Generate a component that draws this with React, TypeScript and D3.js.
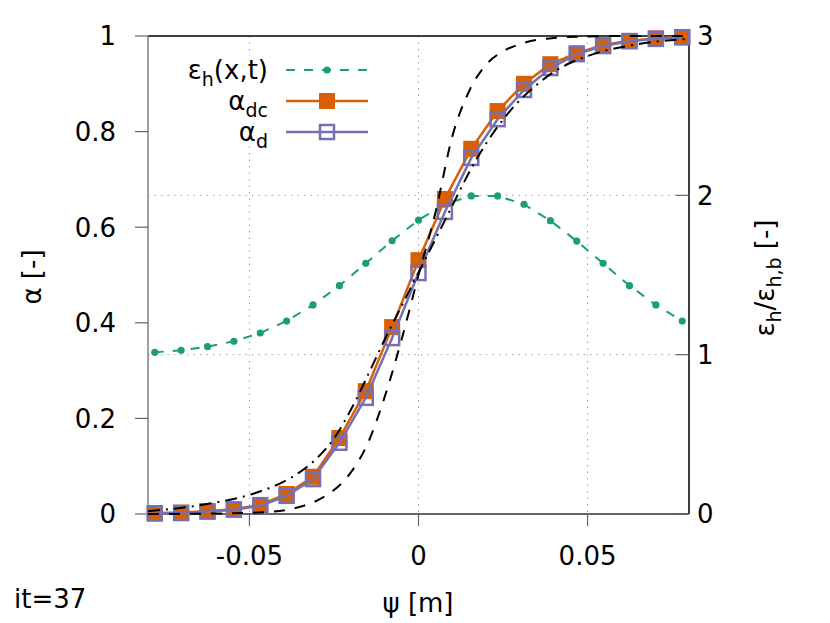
import * as d3 from "d3";
import React, { useRef, useEffect } from "react";

// cell centres along psi [m]
const psi = [
  -0.078, -0.0702, -0.0624, -0.0546, -0.0468, -0.039, -0.0312, -0.0234, -0.0156, -0.0078, 0,
  0.0078, 0.0156, 0.0234, 0.0312, 0.039, 0.0468, 0.0546, 0.0624, 0.0702, 0.078,
];
const alphaDc = [
  0.002, 0.003, 0.006, 0.01, 0.019, 0.042, 0.078, 0.159, 0.257, 0.391, 0.531,
  0.659, 0.764, 0.843, 0.9, 0.941, 0.964, 0.981, 0.99, 0.995, 0.998,
];
const alphaD = [
  0.001, 0.002, 0.005, 0.009, 0.017, 0.038, 0.073, 0.149, 0.243, 0.368, 0.504,
  0.632, 0.745, 0.826, 0.887, 0.933, 0.962, 0.979, 0.989, 0.994, 0.997,
];
const epsRatio = [
  1.015, 1.027, 1.05, 1.084, 1.136, 1.211, 1.312, 1.433, 1.573, 1.715, 1.845,
  1.944, 1.996, 1.996, 1.944, 1.841, 1.713, 1.573, 1.433, 1.312, 1.211,
];

// sharp reference profile (dashed)
const psiSharp = [
  -0.08, -0.06, -0.045, -0.035, -0.03, -0.025, -0.02, -0.015, -0.01, -0.005, 0,
  0.005, 0.01, 0.015, 0.02, 0.025, 0.03, 0.04, 0.05, 0.06, 0.08,
];
const alphaSharp = [
  0.0, 0.001, 0.004, 0.015, 0.028, 0.05, 0.087, 0.148, 0.245, 0.365, 0.5,
  0.63, 0.79, 0.885, 0.94, 0.968, 0.983, 0.996, 0.999, 1.0, 1.0,
];

// smeared reference profile (dash-dot)
const psiWide = [
  -0.08, -0.07, -0.0625, -0.055, -0.05, -0.045, -0.04, -0.035, -0.03, -0.025, -0.02, -0.015,
  -0.01, -0.005, 0, 0.005, 0.01, 0.015, 0.02, 0.025, 0.03, 0.035, 0.04, 0.045, 0.05, 0.055,
  0.0625, 0.07, 0.08,
];
const alphaWide = [
  0.006, 0.013, 0.021, 0.031, 0.04, 0.052, 0.067, 0.088, 0.117, 0.158, 0.218, 0.29,
  0.365, 0.435, 0.505, 0.575, 0.645, 0.715, 0.775, 0.825, 0.866, 0.898, 0.925, 0.944, 0.958,
  0.969, 0.98, 0.988, 0.994,
];

const xTicks = [-0.05, 0, 0.05];
const yTicks = [0, 0.2, 0.4, 0.6, 0.8, 1];
const y2Ticks = [0, 1, 2, 3];

const GREEN = "#1b9e77";
const ORANGE = "#d95f02";
const PURPLE = "#7570b3";
const FONT = "DejaVu Sans";

function App() {
  const svgRef = useRef(null);

  useEffect(() => {
    const svg = d3.select(svgRef.current);
    svg.selectAll("*").remove();

    const left = 148;
    const right = 689;
    const top = 36;
    const bottom = 514;

    const x = d3.scaleLinear().domain([-0.08, 0.08]).range([left, right]);
    const y = d3.scaleLinear().domain([0, 1]).range([bottom, top]);
    const y2 = d3.scaleLinear().domain([0, 3]).range([bottom, top]);

    svg.append("rect").attr("width", 830).attr("height", 623).attr("fill", "white");

    // grid (x tics and y2 tics)
    const grid = svg.append("g").attr("stroke", "#a0a0a0").attr("stroke-width", 1).attr("stroke-dasharray", "1.5,5");
    xTicks.forEach((t) => {
      grid.append("line").attr("x1", x(t)).attr("x2", x(t)).attr("y1", top).attr("y2", bottom);
    });
    [1, 2].forEach((t) => {
      grid.append("line").attr("x1", left).attr("x2", right).attr("y1", y2(t)).attr("y2", y2(t));
    });

    // border
    svg.append("path")
      .attr("d", `M${left},${top}H${right}V${bottom}`)
      .attr("fill", "none").attr("stroke", "black").attr("stroke-width", 1.5);
    svg.append("line").attr("x1", left).attr("x2", right).attr("y1", bottom).attr("y2", bottom)
      .attr("stroke", "#333").attr("stroke-width", 1.5);
    svg.append("line").attr("x1", left).attr("x2", left).attr("y1", top).attr("y2", bottom)
      .attr("stroke", "#808080").attr("stroke-width", 1.5);

    // ticks + labels
    const ticks = svg.append("g").attr("stroke", "#666").attr("stroke-width", 1.2);
    const labels = svg.append("g").attr("font-family", FONT).attr("font-size", 26).attr("fill", "black");
    yTicks.forEach((t) => {
      ticks.append("line").attr("x1", left - 13).attr("x2", left).attr("y1", y(t)).attr("y2", y(t));
      labels.append("text").attr("x", 116).attr("y", y(t)).attr("dy", "0.36em")
        .attr("text-anchor", "end").text(d3.format("~g")(t));
    });
    y2Ticks.forEach((t) => {
      ticks.append("line").attr("x1", right - 13).attr("x2", right).attr("y1", y2(t)).attr("y2", y2(t));
      labels.append("text").attr("x", 697).attr("y", y2(t)).attr("dy", "0.36em").text(t);
    });
    xTicks.forEach((t) => {
      ticks.append("line").attr("x1", x(t)).attr("x2", x(t)).attr("y1", bottom).attr("y2", bottom + 12);
      labels.append("text").attr("x", x(t)).attr("y", 565).attr("text-anchor", "middle")
        .text(t === 0 ? "0" : t.toFixed(2));
    });

    // axis titles
    labels.append("text").attr("x", 418).attr("y", 612).attr("text-anchor", "middle").text("ψ [m]");
    labels.append("text").attr("x", 14).attr("y", 608).text("it=37");
    labels.append("text").attr("transform", "translate(41,277) rotate(-90)")
      .attr("text-anchor", "middle").text("α [-]");
    const r2 = labels.append("text").attr("transform", "translate(774,278) rotate(-90)")
      .attr("text-anchor", "middle");
    r2.append("tspan").text("ε");
    r2.append("tspan").attr("dy", 7).attr("font-size", 19).text("h");
    r2.append("tspan").attr("dy", -7).text("/ε");
    r2.append("tspan").attr("dy", 7).attr("font-size", 19).text("h,b");
    r2.append("tspan").attr("dy", -7).text(" [-]");

    // data series
    const idx = d3.range(psi.length);
    const epsLine = d3.line().x((i) => x(psi[i])).y((i) => y2(epsRatio[i]));
    svg.append("path").attr("d", epsLine(idx)).attr("fill", "none")
      .attr("stroke", GREEN).attr("stroke-width", 2).attr("stroke-dasharray", "9,9");
    svg.append("g").selectAll("circle").data(idx).enter().append("circle")
      .attr("cx", (i) => x(psi[i])).attr("cy", (i) => y2(epsRatio[i])).attr("r", 3.6).attr("fill", GREEN);

    const dcLine = d3.line().x((i) => x(psi[i])).y((i) => y(alphaDc[i]));
    svg.append("path").attr("d", dcLine(idx)).attr("fill", "none")
      .attr("stroke", ORANGE).attr("stroke-width", 2.5);
    svg.append("g").selectAll("rect").data(idx).enter().append("rect")
      .attr("x", (i) => x(psi[i]) - 8).attr("y", (i) => y(alphaDc[i]) - 8)
      .attr("width", 16).attr("height", 16).attr("fill", ORANGE);

    const dLine = d3.line().x((i) => x(psi[i])).y((i) => y(alphaD[i]));
    svg.append("path").attr("d", dLine(idx)).attr("fill", "none")
      .attr("stroke", PURPLE).attr("stroke-width", 2.5);
    svg.append("g").selectAll("rect").data(idx).enter().append("rect")
      .attr("x", (i) => x(psi[i]) - 7).attr("y", (i) => y(alphaD[i]) - 7)
      .attr("width", 14).attr("height", 14).attr("fill", "none")
      .attr("stroke", PURPLE).attr("stroke-width", 2.5);

    // reference profiles
    const sharp = d3.line().curve(d3.curveMonotoneX)
      .x((i) => x(psiSharp[i])).y((i) => y(alphaSharp[i]));
    svg.append("path").attr("d", sharp(d3.range(psiSharp.length))).attr("fill", "none")
      .attr("stroke", "black").attr("stroke-width", 2).attr("stroke-dasharray", "11,10");
    const wide = d3.line().curve(d3.curveMonotoneX)
      .x((i) => x(psiWide[i])).y((i) => y(alphaWide[i]));
    svg.append("path").attr("d", wide(d3.range(psiWide.length))).attr("fill", "none")
      .attr("stroke", "black").attr("stroke-width", 2).attr("stroke-dasharray", "12,6,2,6");

    // legend (opaque)
    const key = svg.append("g");
    key.append("rect").attr("x", 172).attr("y", 56).attr("width", 206).attr("height", 90).attr("fill", "white");
    const rows = [70, 101, 132];
    const sx1 = 286;
    const sx2 = 368;
    const mid = (sx1 + sx2) / 2;

    const t1 = key.append("text").attr("x", 268).attr("y", rows[0] + 9).attr("text-anchor", "end")
      .attr("font-family", FONT).attr("font-size", 26);
    t1.append("tspan").text("ε");
    t1.append("tspan").attr("dy", 7).attr("font-size", 19).text("h");
    t1.append("tspan").attr("dy", -7).text("(x,t)");
    key.append("line").attr("x1", sx1).attr("x2", sx2).attr("y1", rows[0]).attr("y2", rows[0])
      .attr("stroke", GREEN).attr("stroke-width", 2).attr("stroke-dasharray", "9,9");
    key.append("circle").attr("cx", mid).attr("cy", rows[0]).attr("r", 3.6).attr("fill", GREEN);

    const t2 = key.append("text").attr("x", 268).attr("y", rows[1] + 9).attr("text-anchor", "end")
      .attr("font-family", FONT).attr("font-size", 26);
    t2.append("tspan").text("α");
    t2.append("tspan").attr("dy", 7).attr("font-size", 19).text("dc");
    key.append("line").attr("x1", sx1).attr("x2", sx2).attr("y1", rows[1]).attr("y2", rows[1])
      .attr("stroke", ORANGE).attr("stroke-width", 2.5);
    key.append("rect").attr("x", mid - 8).attr("y", rows[1] - 8).attr("width", 16).attr("height", 16)
      .attr("fill", ORANGE);

    const t3 = key.append("text").attr("x", 268).attr("y", rows[2] + 9).attr("text-anchor", "end")
      .attr("font-family", FONT).attr("font-size", 26);
    t3.append("tspan").text("α");
    t3.append("tspan").attr("dy", 7).attr("font-size", 19).text("d");
    key.append("line").attr("x1", sx1).attr("x2", sx2).attr("y1", rows[2]).attr("y2", rows[2])
      .attr("stroke", PURPLE).attr("stroke-width", 2.5);
    key.append("rect").attr("x", mid - 7).attr("y", rows[2] - 7).attr("width", 14).attr("height", 14)
      .attr("fill", "none").attr("stroke", PURPLE).attr("stroke-width", 2.5);
  }, []);

  return (
    <svg
      ref={svgRef}
      width={830}
      height={623}
      style={{ position: "absolute", left: 0, top: 0, display: "block" }}
    />
  );
}

export default App;
